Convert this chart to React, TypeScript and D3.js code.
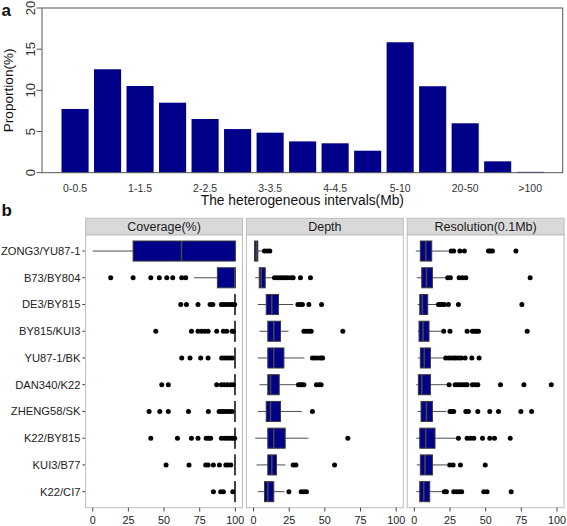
import React from "react";
import * as d3 from "d3";

// ---------- Panel a data ----------
const intervalCategories = [
  "0-0.5", "0.5-1", "1-1.5", "1.5-2", "2-2.5", "2.5-3", "3-3.5", "3.5-4",
  "4-4.5", "4.5-5", "5-10", "10-20", "20-50", "50-100", ">100",
];
const proportions = [7.74, 12.56, 10.53, 8.5, 6.52, 5.3, 4.86, 3.8, 3.57, 2.67, 15.84, 10.5, 6.0, 1.38, 0.1];
const proportionTicks = [0, 5, 10, 15, 20];

// ---------- Panel b data ----------
const crosses = [
  "ZONG3/YU87-1", "B73/BY804", "DE3/BY815", "BY815/KUI3", "YU87-1/BK",
  "DAN340/K22", "ZHENG58/SK", "K22/BY815", "KUI3/B77", "K22/CI7",
];
const metrics = ["Coverage(%)", "Depth", "Resolution(0.1Mb)"];
const valueTicks = [0, 25, 50, 75, 100];

// [lower whisker, q1, median, q3, upper whisker]
const coverageBoxes = [
  [0, 28.3, 62.2, 100, 100],
  [71, 87.4, 99.6, 100, 100],
  [99.4, 99.4, 99.7, 100, 100],
  [99.4, 99.4, 99.7, 100, 100],
  [99.4, 99.4, 99.7, 100, 100],
  [99.4, 99.4, 99.7, 100, 100],
  [99.4, 99.4, 99.7, 100, 100],
  [99.4, 99.4, 99.7, 100, 100],
  [99.4, 99.4, 99.7, 100, 100],
  [99.4, 99.4, 99.7, 100, 100],
];
const coverageOutliers = [
  [],
  [12.6, 28.3, 40.7, 46.7, 51.9, 56.1, 62.4, 65.2],
  [61.7, 65.7, 73.8, 82.3, 84.2, 90.2, 92.1, 94, 95.8, 97.7, 99.5],
  [44.2, 69.2, 73.8, 76.2, 78.5, 80.9, 86.9, 91.6, 93.9, 97.7, 98.6],
  [62.4, 68.2, 75.7, 80.9, 90.4, 92.1, 93.9, 95.8, 97.7],
  [48.4, 53.0, 86.9, 90.2, 92.1, 94.4, 96.8, 98.6],
  [39.5, 47.0, 53.0, 67.1, 81.1, 88.6, 90.4, 92.1, 93.9, 95.8, 97.7],
  [40.7, 59.4, 69.2, 73.8, 79.5, 81.3, 82.7, 90.2, 92.5, 94.4, 96.3, 98.2, 99.5],
  [51.4, 67.5, 79.2, 80.9, 84.6, 88.8, 93.3, 94.9, 96.8],
  [84.6, 89.7, 91.6, 98.2],
];

const depthBoxes = [
  [0.7, 0.7, 1.9, 3.0, 6.5],
  [1.2, 4.0, 5.4, 8.2, 13.5],
  [3.0, 8.9, 12.8, 17.5, 27.8],
  [4.2, 10.0, 14.2, 18.9, 24.5],
  [3.0, 10.0, 14.2, 21.3, 35.7],
  [4.2, 10.0, 11.9, 18.0, 29.9],
  [3.0, 8.9, 11.9, 18.9, 33.9],
  [1.2, 10.0, 14.2, 22.2, 38.5],
  [2.1, 10.0, 12.8, 16.1, 22.4],
  [3.0, 7.7, 10.0, 14.2, 21.7],
];
const depthOutliers = [
  [7.7, 9.6, 11.4],
  [14.7, 16.6, 18.5, 20.3, 22.2, 24.1, 26.4, 27.8, 32.9, 39.9],
  [31.1, 32.9, 34.3, 38.8, 47.7],
  [35.3, 37.1, 39.0, 40.4, 62.6],
  [41.3, 43.2, 45.1, 47.0, 48.4],
  [31.5, 32.9, 33.9, 35.3, 44.1, 46.0, 47.4],
  [41.3],
  [66.1],
  [27.8, 29.7, 56.8],
  [24.8, 33.4, 35.3, 37.1],
];

const resolutionBoxes = [
  [1.0, 4.2, 8.0, 12.2, 23.9],
  [1.7, 5.2, 8.5, 12.7, 22.0],
  [2.4, 3.8, 5.6, 9.4, 15.9],
  [2.4, 3.3, 6.1, 10.3, 18.8],
  [2.4, 4.2, 7.0, 11.3, 21.1],
  [1.4, 2.8, 5.2, 11.3, 23.4],
  [2.4, 4.7, 8.5, 12.7, 22.5],
  [1.4, 3.8, 8.0, 14.5, 29.5],
  [1.7, 4.2, 7.5, 12.7, 23.0],
  [1.4, 3.8, 6.6, 10.8, 19.7],
];
const resolutionOutliers = [
  [25.8, 27.6, 31.9, 35.1, 52.0, 53.4, 54.8, 71.2],
  [23.4, 25.3, 31.4, 33.7, 36.1, 81.2],
  [16.9, 18.3, 19.7, 21.1, 23.9, 30.9, 75.4],
  [20.6, 25.0, 37.0, 40.7, 42.2, 43.6, 45.0, 79.1],
  [22.0, 23.9, 25.8, 27.6, 29.1, 30.9, 32.8, 35.6, 40.3, 45.4],
  [24.4, 28.6, 30.4, 32.3, 34.2, 35.6, 37.0, 40.7, 42.6, 44.5, 60.4, 76.8, 96.0],
  [25.0, 26.2, 27.6, 36.1, 37.9, 44.5, 52.9, 59.0, 74.7, 82.2],
  [30.9, 37.0, 39.3, 41.7, 47.8, 52.9, 56.2, 67.2],
  [24.8, 27.2, 32.3, 49.7],
  [21.1, 22.5, 27.6, 29.5, 31.4, 33.2, 48.7, 51.0, 67.9],
];

const metricBoxes = [coverageBoxes, depthBoxes, resolutionBoxes];
const metricOutliers = [coverageOutliers, depthOutliers, resolutionOutliers];

const FONT = "'Liberation Sans', Arial, Helvetica, sans-serif";
const BLUE = "#000088";

function PanelA() {
  const left = 42, right = 562.7, top = 8, bottom = 172.7;
  const x = d3.scaleLinear().domain([-0.52, 18.7]).range([left, right]);
  const y = d3.scaleLinear().domain([0, 20]).range([bottom, top]);
  const axisColor = "#555";
  return (
    <g>
      <text x={1.5} y={15.5} fontFamily={FONT} fontWeight="bold" fontSize={17} fill="#111">a</text>
      {proportions.map((v, i) => {
        const l = 0.2 + 1.2 * i;
        return (
          <rect key={i} x={x(l)} y={y(v)} width={x(l + 1) - x(l)} height={y(0) - y(v)} fill={BLUE} />
        );
      })}
      <rect x={left} y={top} width={right - left} height={bottom - top} fill="none" stroke={axisColor} strokeWidth={1} />
      {proportionTicks.map((t) => (
        <g key={t}>
          <line x1={left - 5.5} x2={left} y1={y(t)} y2={y(t)} stroke={axisColor} />
          <text
            transform={`translate(${30},${y(t)}) rotate(-90)`}
            textAnchor="middle"
            dy="0.35em"
            fontFamily={FONT}
            fontSize={13}
            fill="#333"
          >
            {t}
          </text>
        </g>
      ))}
      {intervalCategories.map((c, i) =>
        i % 2 === 0 ? (
          <text key={c} x={x(0.7 + 1.2 * i)} y={191.5} textAnchor="middle" fontFamily={FONT} fontSize={10.5} fill="#333">
            {c}
          </text>
        ) : null
      )}
      <text x={(left + right) / 2} y={204.5} textAnchor="middle" fontFamily={FONT} fontSize={13.8} fill="#111">
        The heterogeneous intervals(Mb)
      </text>
      <text
        transform={`translate(${8.5},${(top + bottom) / 2}) rotate(-90)`}
        textAnchor="middle"
        dy="0.35em"
        fontFamily={FONT}
        fontSize={13.6}
        fill="#111"
      >
        Proportion(%)
      </text>
    </g>
  );
}

function PanelB() {
  const stripTop = 218.3, stripBottom = 235, panelBottom = 507.7;
  const panelWidth = 156.9;
  const panelLefts = [85.6, 246.4, 407.2];
  const y = d3.scalePoint<string>().domain(crosses).range([stripBottom, panelBottom]).padding(0.6);
  const boxH = y.step() * 0.75;
  const borderColor = "#bdbdbd";
  return (
    <g>
      <text x={1.5} y={216} fontFamily={FONT} fontWeight="bold" fontSize={17} fill="#111">b</text>
      {crosses.map((c) => (
        <g key={c}>
          <line x1={82.3} x2={panelLefts[0]} y1={y(c)} y2={y(c)} stroke="#444" />
          <text x={80.5} y={y(c)} dy="0.35em" textAnchor="end" fontFamily={FONT} fontSize={11.2} fill="#222">
            {c}
          </text>
        </g>
      ))}
      {metrics.map((m, mi) => {
        const l = panelLefts[mi];
        const x = d3.scaleLinear().domain([-5, 105]).range([l, l + panelWidth]);
        return (
          <g key={m}>
            <rect x={l} y={stripTop} width={panelWidth} height={stripBottom - stripTop} fill="#d9d9d9" stroke={borderColor} strokeWidth={1} />
            <text x={l + panelWidth / 2} y={(stripTop + stripBottom) / 2} dy="0.36em" textAnchor="middle" fontFamily={FONT} fontSize={12.5} fill="#1a1a1a">
              {m}
            </text>
            <rect x={l} y={stripBottom} width={panelWidth} height={panelBottom - stripBottom} fill="#fff" stroke={borderColor} strokeWidth={1} />
            {crosses.map((c, ci) => {
              const [lo, q1, med, q3, hi] = metricBoxes[mi][ci];
              const cy = y(c) as number;
              return (
                <g key={c}>
                  <line x1={x(lo)} x2={x(q1)} y1={cy} y2={cy} stroke="#4d4d4d" strokeWidth={1} />
                  <line x1={x(q3)} x2={x(hi)} y1={cy} y2={cy} stroke="#4d4d4d" strokeWidth={1} />
                  <rect x={x(q1)} y={cy - boxH / 2} width={Math.max(0.1, x(q3) - x(q1))} height={boxH} fill={BLUE} stroke="#3a3a3a" strokeWidth={1} />
                  <line x1={x(med)} x2={x(med)} y1={cy - boxH / 2} y2={cy + boxH / 2} stroke="#444" strokeWidth={1.6} />
                  {metricOutliers[mi][ci].map((v, k) => (
                    <circle key={k} cx={x(v)} cy={cy} r={2.5} fill="#000" />
                  ))}
                </g>
              );
            })}
            {valueTicks.map((t) => (
              <g key={t}>
                <line x1={x(t)} x2={x(t)} y1={panelBottom} y2={panelBottom + 3.8} stroke="#444" />
                <text x={x(t)} y={524} textAnchor="middle" fontFamily={FONT} fontSize={10.8} fill="#222">
                  {t}
                </text>
              </g>
            ))}
          </g>
        );
      })}
    </g>
  );
}

export default function App() {
  return (
    <svg
      width={567}
      height={526}
      viewBox="0 0 567 526"
      style={{ position: "absolute", left: 0, top: 0, background: "#fff", display: "block" }}
    >
      <PanelA />
      <PanelB />
    </svg>
  );
}
